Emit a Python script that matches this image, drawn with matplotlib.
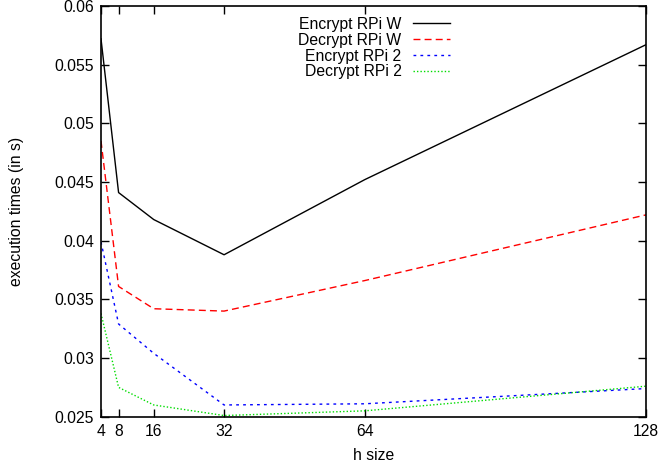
import matplotlib
matplotlib.use("Agg")
import matplotlib.pyplot as plt

h_size = [4, 8, 16, 32, 64, 128]
enc_rpi_w = [0.0572, 0.0441, 0.0418, 0.0388, 0.0452, 0.0567]
dec_rpi_w = [0.0485, 0.0361, 0.0342, 0.0340, 0.0366, 0.0422]
enc_rpi_2 = [0.0399, 0.0329, 0.0304, 0.0260, 0.0261, 0.0274]
dec_rpi_2 = [0.0338, 0.0275, 0.0260, 0.0251, 0.0255, 0.0276]
x_ticks = [4, 8, 16, 32, 64, 128]
y_ticks = [0.025, 0.03, 0.035, 0.04, 0.045, 0.05, 0.055, 0.06]
y_labels = ["0.025", "0.03", "0.035", "0.04", "0.045", "0.05", "0.055", "0.06"]

plt.rcParams['font.family'] = ['Liberation Sans', 'DejaVu Sans']
plt.rcParams['font.size'] = 11.3

fig = plt.figure(figsize=(6.61, 4.67), dpi=100)
ax = fig.add_axes([0.1528, 0.1077, 0.8245, 0.8795])

ax.plot(h_size, enc_rpi_w, color='black', lw=1.0, label='Encrypt RPi W')
ax.plot(h_size, dec_rpi_w, color='#ff0000', lw=1.0, dashes=(5, 3), label='Decrypt RPi W')
ax.plot(h_size, enc_rpi_2, color='#0000ff', lw=1.0, dashes=(2, 3), label='Encrypt RPi 2')
ax.plot(h_size, dec_rpi_2, color='#00dd00', lw=1.0, dashes=(1, 1.5), label='Decrypt RPi 2')

ax.set_xlim(4, 128)
ax.set_ylim(0.025, 0.06)
ax.set_xticks(x_ticks)
ax.set_xticklabels([str(v) for v in x_ticks])
ax.set_yticks(y_ticks)
ax.set_yticklabels(y_labels)
ax.tick_params(direction='in', top=True, right=True, length=6, width=1, pad=5)
for s in ax.spines.values():
    s.set_linewidth(1.2)

ax.set_xlabel('h size', labelpad=7)
ax.set_ylabel('execution times (in s)', labelpad=22)

leg = ax.legend(loc='upper right', bbox_to_anchor=(0.661, 1.0), markerfirst=False,
                frameon=False, handlelength=2.4, handletextpad=0.7,
                labelspacing=0.05, borderaxespad=0.3)
for t in leg.get_texts():
    t.set_ha('right')

fig.savefig('out.png', dpi=100)
